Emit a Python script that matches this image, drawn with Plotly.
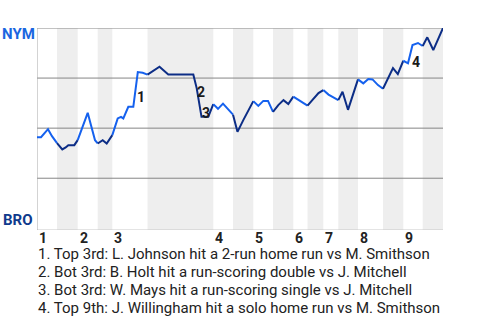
import plotly.graph_objects as go

# ---- data ----
# game progress (0-100) and NYM win probability
progress = [0, 0.99, 2.71, 3.69, 4.93, 6.23, 7.07, 7.71, 9.19, 10.02, 12.49, 13.30, 14.29,
            14.95, 16.18, 17.17, 18.55, 19.88, 20.69, 21.26, 22.49, 23.72, 24.83, 26.03,
            27.22, 28.82, 30.17, 32.34, 38.50, 39.33, 40.52, 42.19, 43.42, 44.58, 45.81,
            47.66, 48.28, 49.38, 50.81, 52.04, 53.28, 54.51, 55.74, 56.90, 58.13, 59.43,
            60.71, 61.90, 63.13, 64.78, 66.63, 68.05, 69.33, 70.52, 71.80, 74.21, 75.25,
            76.60, 79.06, 80.37, 81.60, 82.64, 83.99, 85.22, 87.68, 88.87, 90.22, 91.38,
            92.49, 93.84, 95.00, 96.13, 97.61, 100]
nym_wp = [0.455, 0.455, 0.495, 0.46, 0.425, 0.394, 0.4035, 0.415, 0.415, 0.44, 0.5765,
          0.515, 0.44, 0.4235, 0.44, 0.4235, 0.465, 0.5485, 0.5565, 0.5485, 0.6065, 0.6065,
          0.78, 0.7765, 0.7675, 0.79, 0.8065, 0.7675, 0.7675, 0.70, 0.5565, 0.5565, 0.62,
          0.5965, 0.6225, 0.58, 0.5675, 0.4815, 0.54, 0.585, 0.635, 0.611, 0.636, 0.636,
          0.5815, 0.615, 0.64, 0.62, 0.6575, 0.635, 0.6125, 0.6465, 0.675, 0.69, 0.6675,
          0.64, 0.6815, 0.5915, 0.7435, 0.7235, 0.745, 0.7435, 0.715, 0.6965, 0.80, 0.77,
          0.8365, 0.8235, 0.915, 0.925, 0.91, 0.9535, 0.89, 1.0]
# half-inning boundaries (top 1, bot 1, top 2, ...)
half_bounds = [0, 4.93, 10.02, 14.95, 18.55, 27.22, 43.42, 48.28, 53.28, 58.13, 63.13,
               66.63, 70.52, 74.21, 79.06, 85.22, 90.22, 95.00, 100]
innings = ["1", "2", "3", "4", "5", "6", "7", "8", "9"]
events_x = [25.5, 40.3, 41.6, 93.3]
events_y = [0.655, 0.68, 0.575, 0.83]
events_lbl = ["1", "2", "3", "4"]
notes = [
    "1. Top 3rd: L. Johnson hit a 2-run home run vs M. Smithson",
    "2. Bot 3rd: B. Holt hit a run-scoring double vs J. Mitchell",
    "3. Bot 3rd: W. Mays hit a run-scoring single vs J. Mitchell",
    "4. Top 9th: J. Willingham hit a solo home run vs M. Smithson",
]
team_top, team_bottom = "NYM", "BRO"

TOP_C = "#1561ee"
BOT_C = "#0c2d86"
FONT = "Roboto"

fig = go.Figure()
shapes = []
for k in range(len(half_bounds) - 1):
    a, b = half_bounds[k], half_bounds[k + 1]
    if k % 2 == 1:
        shapes.append(dict(type="rect", xref="x", yref="y", x0=a, x1=b, y0=-0.0085, y1=1,
                           fillcolor="#eeeeee", line_width=0, layer="below"))
    xs = [x for x in progress if a - 1e-6 <= x <= b + 1e-6]
    ys = [y for x, y in zip(progress, nym_wp) if a - 1e-6 <= x <= b + 1e-6]
    fig.add_trace(go.Scatter(x=xs, y=ys, mode="lines", cliponaxis=False,
                             line=dict(color=TOP_C if k % 2 == 0 else BOT_C, width=2),
                             hoverinfo="skip", showlegend=False))

for g in [0.25, 0.5, 0.75, 1.0]:
    shapes.append(dict(type="line", xref="x", yref="y", x0=0, x1=100, y0=g, y1=g,
                       line=dict(color="#858585", width=1), layer="between"))
shapes.append(dict(type="line", xref="x", yref="y", x0=0, x1=100, y0=-0.0085, y1=-0.0085,
                   line=dict(color="#c8c8c8", width=1), layer="between"))
shapes.append(dict(type="line", xref="x", yref="y", x0=0, x1=0, y0=-0.0085, y1=1,
                   line=dict(color="#a8a8a8", width=1), layer="between"))

ann = []
for i, lab in enumerate(innings):
    ann.append(dict(x=half_bounds[2 * i], y=-0.04, xref="x", yref="paper", text="<b>%s</b>" % lab,
                    showarrow=False, xanchor="left", yanchor="middle", xshift=0,
                    font=dict(family=FONT, size=14, color="#222222")))
for x, y, lab in zip(events_x, events_y, events_lbl):
    ann.append(dict(x=x, y=y, xref="x", yref="y", text="<b>%s</b>" % lab, showarrow=False,
                    xanchor="center", yanchor="middle",
                    font=dict(family=FONT, size=14, color="#1a1a1a")))
ann.append(dict(x=0, y=0.97, xref="paper", yref="paper", text="<b>%s</b>" % team_top,
                showarrow=False, xanchor="right", yanchor="middle", xshift=0,
                font=dict(family=FONT, size=15, color="#1a66e0")))
ann.append(dict(x=0, y=0.05, xref="paper", yref="paper", text="<b>%s</b>" % team_bottom,
                showarrow=False, xanchor="right", yanchor="middle", xshift=-2,
                font=dict(family=FONT, size=15, color="#0f3a8c")))
for i, t in enumerate(notes):
    py = 254 + 18 * i
    ann.append(dict(x=0, y=(230 - py) / 202, xref="paper", yref="paper", text=t,
                    showarrow=False, xanchor="left", yanchor="middle", xshift=-1,
                    font=dict(family=FONT, size=15, color="#222222")))

fig.update_layout(
    width=480, height=320,
    margin=dict(l=37, r=37, t=28, b=90, pad=0),
    paper_bgcolor="white", plot_bgcolor="white",
    xaxis=dict(range=[0, 100], showgrid=False, zeroline=False, showticklabels=False,
               showline=False, fixedrange=True),
    yaxis=dict(range=[-0.0085, 1], showgrid=False, zeroline=False, showticklabels=False,
               showline=False, fixedrange=True),
    shapes=shapes, annotations=ann,
)
fig.write_html("out.html", config={"displayModeBar": False})
